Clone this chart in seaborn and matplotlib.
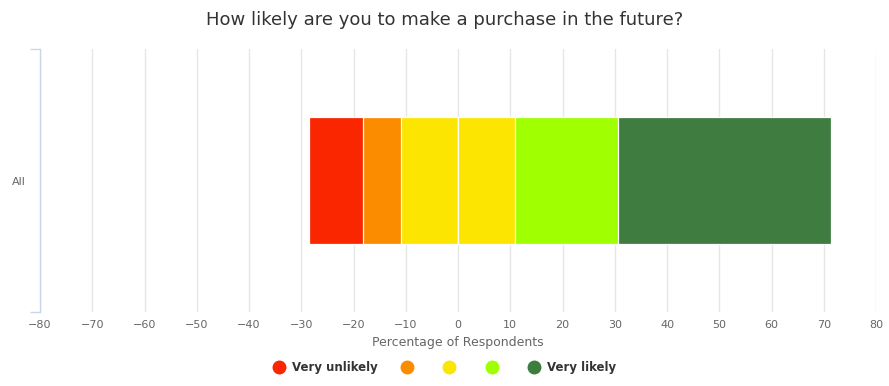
import matplotlib.pyplot as plt
import seaborn as sns
from matplotlib.lines import Line2D

# survey data
group = ["All"]
responses = ["Very unlikely", "Unlikely", "Neutral", "Likely", "Very likely"]
legend_labels = ["Very unlikely", "", "", "", "Very likely"]
shares = [10.4, 7.3, 21.8, 19.8, 40.7]
colors = ["#fa2600", "#fb8c00", "#fce500", "#a0ff00", "#3e7c3f"]
xticks = list(range(-80, 81, 10))

sns.set_theme(style="whitegrid")
plt.rcParams["font.family"] = ["DejaVu Sans"]

# diverging layout: neutral is split around zero
half = shares[2] / 2
neg_ends = [-(half + shares[1] + shares[0]), -(half + shares[1]), -half]
pos_ends = [half + shares[3] + shares[4], half + shares[3], half]
neg_colors = [colors[0], colors[1], colors[2]]
pos_colors = [colors[4], colors[3], colors[2]]

fig, ax = plt.subplots(figsize=(8.89, 3.86), dpi=100)
fig.subplots_adjust(left=0.045, right=0.9854, bottom=0.1917, top=0.873)

# draw outermost segments first, inner ones overlay them
for end, col in zip(neg_ends + pos_ends, neg_colors + pos_colors):
    sns.barplot(x=[end], y=group, color=col, width=0.48, orient="h",
                edgecolor="white", linewidth=0.9, errorbar=None,
                saturation=1, ax=ax)

ax.set_xlim(-80, 80)
ax.set_ylim(0.5, -0.5)
ax.set_xticks(xticks)
ax.set_axisbelow(True)
ax.xaxis.grid(True, color="#e6e6e6", linewidth=1)
ax.yaxis.grid(False)

for side in ["top", "right", "bottom"]:
    ax.spines[side].set_visible(False)
ax.spines["left"].set_color("#ccd6eb")
ax.spines["left"].set_linewidth(1)

ax.tick_params(axis="x", length=0, pad=6, labelsize=8, labelcolor="#666666")
ax.tick_params(axis="y", which="major", length=0, pad=10, labelsize=8,
               labelcolor="#666666")
ax.set_yticks([-0.5, 0.5], minor=True)
ax.tick_params(axis="y", which="minor", left=True, length=7, width=1,
               color="#ccd6eb")

ax.set_xlabel("Percentage of Respondents", fontsize=9, color="#666666",
              labelpad=4)
ax.set_ylabel("")

fig.suptitle("How likely are you to make a purchase in the future?",
             y=0.948, va="center", fontsize=13, color="#333333")

handles = [Line2D([0], [0], marker="o", linestyle="", markersize=9,
                  markerfacecolor=c, markeredgecolor=c) for c in colors]
leg = fig.legend(handles, legend_labels, loc="center", ncol=5,
                 bbox_to_anchor=(0.5, 0.047), frameon=False,
                 handlelength=1.0, handletextpad=0.6, columnspacing=2.0,
                 prop={"size": 8.5, "weight": "bold"})
for t in leg.get_texts():
    t.set_color("#333333")

fig.savefig("out.png", dpi=100)
